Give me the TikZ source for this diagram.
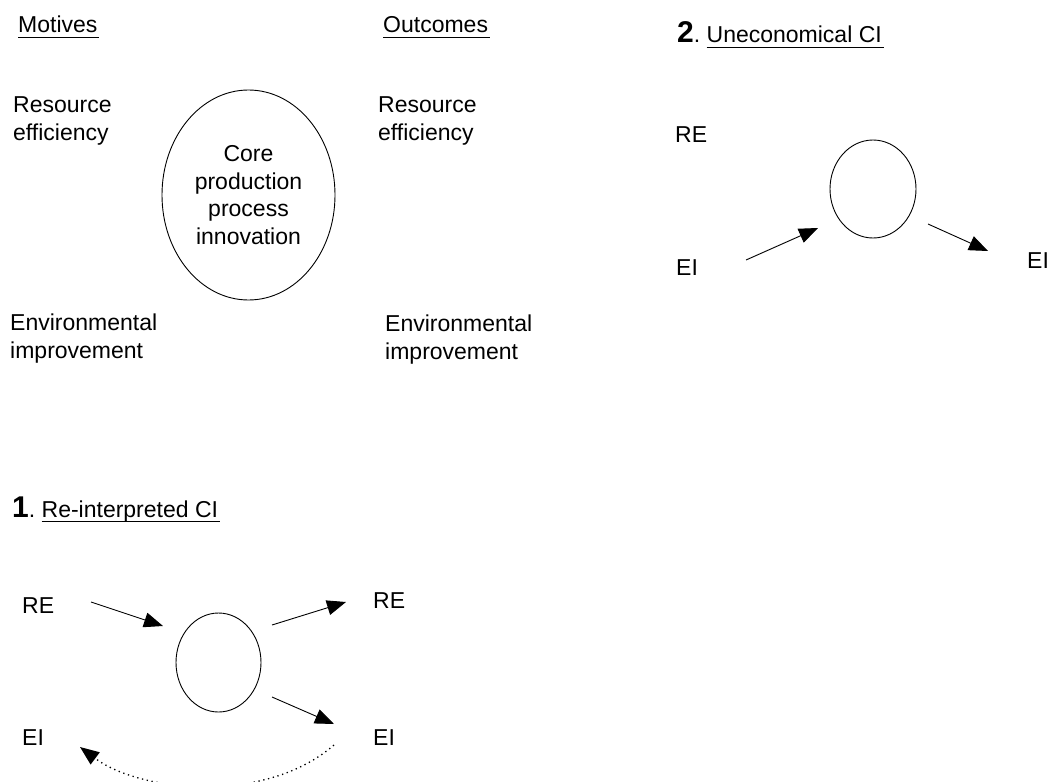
\documentclass[tikz,border=0pt]{standalone}
\usepackage{fontspec}
\setmainfont{Liberation Sans}
\usetikzlibrary{shapes.geometric,arrows.meta}
% word underline at a fixed distance below the baseline
\newcommand\ulword[1]{\setbox0\hbox{#1}\rlap{\vrule height -3.6pt depth 5pt width \dimexpr\wd0+2pt\relax}\box0}
% large bold section number
\newcommand\bignum[1]{{\fontsize{30}{30}\selectfont\bfseries #1}}

\begin{document}
\begin{tikzpicture}[x=1pt,y=-1pt,
  every node/.style={inner sep=0pt, font=\fontsize{23}{27.5}\selectfont},
  lbl/.style={anchor=base west, align=left},
  loopnode/.style={draw, ellipse, line width=0.9pt},
  flow/.style={-{Triangle[length=19pt,width=15pt]}, line width=0.9pt},
  feedback/.style={-{Triangle[length=19pt,width=15pt]}, line width=1.3pt,
    dash pattern=on 1.3pt off 3.6pt}]
\useasboundingbox (0,0) rectangle (1048,781);

% ---- concept: motives -> core innovation -> outcomes
% (multi-line labels are placed by the baseline of their last line)
\node[lbl] (motives) at (18,33) {\ulword{Motives}};
\node[lbl] (outcomes) at (383,33) {\ulword{Outcomes}};
\node[lbl] (mre) at (13,140) {Resource\\efficiency};
\node[lbl] (mei) at (10,358) {Environmental\\improvement};
\node[lbl] (ore) at (378,140) {Resource\\efficiency};
\node[lbl] (oei) at (385,359) {Environmental\\improvement};
\node[loopnode, align=center, minimum width=173pt, minimum height=210pt]
  (core) at (248.5,195) {Core\\production\\process\\innovation};

% ---- case 2: uneconomical CI
\node[lbl] (title2) at (677,43) {\bignum{2}.\ \ulword{Uneconomical CI}};
\node[lbl] (re2) at (675,142) {RE};
\node[lbl] (eiin2) at (676,275) {EI};
\node[lbl] (eiout2) at (1027,268) {EI};
\node[loopnode, minimum width=86pt, minimum height=98pt] (core2) at (873,189) {};
\coordinate (a2s) at (746,260);
\coordinate (a2e) at (818,228);
\coordinate (b2s) at (928,224);
\coordinate (b2e) at (988,251);
\draw[flow] (a2s) -- (a2e);
\draw[flow] (b2s) -- (b2e);

% ---- case 1: re-interpreted CI
\node[lbl] (title1) at (12,517) {\bignum{1}.\ \ulword{Re-interpreted CI}};
\node[lbl] (rein1) at (22,613) {RE};
\node[lbl] (reout1) at (373,608) {RE};
\node[lbl] (eiback1) at (22,745) {EI};
\node[lbl] (eiout1) at (373,745) {EI};
\node[loopnode, minimum width=85pt, minimum height=99pt] (core1) at (218.5,662.5) {};
\coordinate (a1s) at (91,602);
\coordinate (a1e) at (163,626);
\coordinate (b1s) at (272,625);
\coordinate (b1e) at (346,602);
\coordinate (c1s) at (272,697);
\coordinate (c1e) at (334,724);
\coordinate (d1s) at (334,745);
\coordinate (d1e) at (80,747);
\draw[flow] (a1s) -- (a1e);
\draw[flow] (b1s) -- (b1e);
\draw[flow] (c1s) -- (c1e);
% feedback loop dips just below the lower page edge
\draw[feedback] (d1s) .. controls (265,805) and (140,792) .. (d1e);
\end{tikzpicture}
\end{document}
